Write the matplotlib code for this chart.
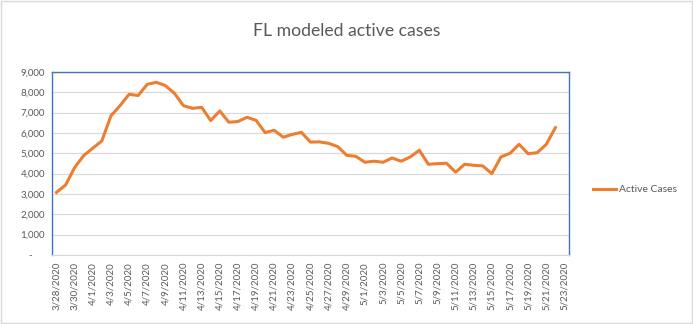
import numpy as np
import pandas as pd
import matplotlib
matplotlib.use("Agg")
import matplotlib.pyplot as plt
from matplotlib.patches import Rectangle

# daily categories 3/28/2020 .. 5/23/2020
dates = pd.date_range("2020-03-28", "2020-05-23", freq="D")
labels = [f"{d.month}/{d.day}/{d.year}" for d in dates]

active_cases = [
    3080, 3440, 4300, 4890, 5250, 5610, 6840, 7340, 7900, 7840,
    8390, 8490, 8330, 7950, 7340, 7210, 7260, 6610, 7080, 6530,
    6560, 6770, 6620, 6020, 6130, 5790, 5930, 6030, 5550, 5560,
    5490, 5330, 4900, 4850, 4560, 4610, 4560, 4770, 4610, 4820,
    5150, 4460, 4490, 4510, 4070, 4460, 4410, 4380, 4000, 4820,
    5000, 5440, 4980, 5030, 5440, 6260, np.nan,
]

plt.rcParams['font.family'] = ['Lato', 'DejaVu Sans']
text_col = '#595959'
grid_col = '#d9d9d9'
blue = '#4472C4'

fig = plt.figure(figsize=(6.93, 3.24), dpi=100)
ax = fig.add_axes([0.075, 0.213, 0.746, 0.565])

x = np.arange(len(labels))
ax.plot(x, active_cases, color='#ED7D31', linewidth=2.2, label='Active Cases',
        solid_joinstyle='round')

ax.set_xlim(-0.5, len(labels) - 0.5)
ax.set_ylim(0, 9000)
ax.set_yticks(range(0, 9001, 1000))
ax.set_yticklabels(['-     '] + [f"{v:,}" for v in range(1000, 9001, 1000)])
ax.set_xticks(x[::2])
ax.set_xticklabels(labels[::2], rotation=90)
ax.tick_params(length=0, labelsize=7, colors=text_col, pad=5)
ax.grid(axis='y', color=grid_col, linewidth=0.9)
ax.set_axisbelow(True)

for s in ['left', 'top', 'right']:
    ax.spines[s].set_color(blue)
    ax.spines[s].set_linewidth(1.0)
ax.spines['bottom'].set_color(grid_col)

fig.text(0.5, 0.905, "FL modeled active cases", ha='center', va='center',
         fontsize=12.7, color=text_col)

fig.legend(loc='center left', bbox_to_anchor=(0.842, 0.415), frameon=False,
           fontsize=7.5, labelcolor=text_col, handlelength=2.2, handletextpad=0.3)

fig.patches.append(Rectangle((0.002, 0.003), 0.996, 0.994, transform=fig.transFigure,
                             fill=False, edgecolor=grid_col, linewidth=1))

fig.savefig("out.png", dpi=100)
